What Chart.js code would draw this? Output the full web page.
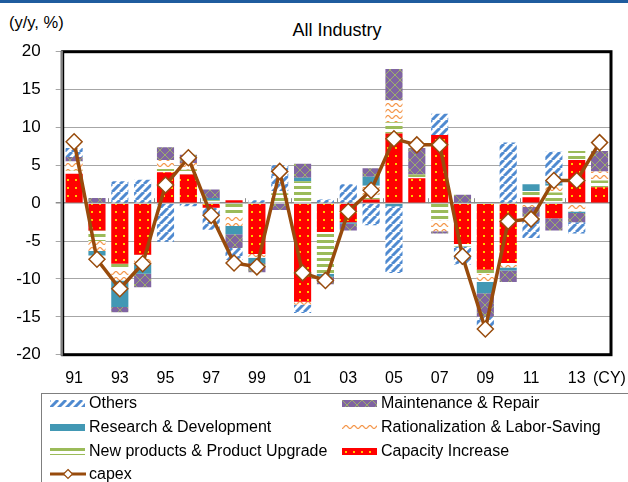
<!DOCTYPE html>
<html>
<head>
<meta charset="utf-8">
<script src="https://cdn.jsdelivr.net/npm/chart.js@4.4.1/dist/chart.umd.min.js"></script>
<style>
  html, body { margin: 0; padding: 0; }
  body { width: 628px; height: 482px; overflow: hidden; position: relative; background: #fff;
         font-family: "Liberation Sans", Arial, sans-serif; color: #000; }
  #topbar { position: absolute; left: 0; top: 0; width: 628px; height: 3px; background: #1f5c9e; }
  #unit { position: absolute; left: 9px; top: 13px; font-size: 16.5px; line-height: 18px; }
  #title { position: absolute; left: 237px; width: 200px; top: 20px; text-align: center; font-size: 18px; line-height: 20px; }
  #cy { position: absolute; left: 593px; top: 369px; font-size: 16px; line-height: 18px; }
  #chart { position: absolute; left: 0; top: 0; }
  #legend { position: absolute; left: 41px; top: 393px; width: 640px; height: 120px; border: 1px solid #7f7f7f; }
  .sw { position: absolute; }
  .lbl { position: absolute; font-size: 16px; line-height: 18px; white-space: nowrap; }
</style>
</head>
<body>
<div id="topbar"></div>
<div id="unit">(y/y, %)</div>
<div id="title">All Industry</div>
<canvas id="chart" width="628" height="482"></canvas>
<div id="cy">(CY)</div>
<div id="legend"></div>
<script>
const years = ['91', '92', '93', '94', '95', '96', '97', '98', '99', '00', '01', '02',
               '03', '04', '05', '06', '07', '08', '09', '10', '11', '12', '13', '14'];

const capacityIncrease = [3.9, -3.6, -8.0, -6.8, 4.1, 3.8, -0.6, 0.4, -6.7, 0, -13.0, -3.8,
                          -2.5, 0.5, 9.2, 3.3, 9.0, -5.4, -8.8, -7.9, 0.8, -2.0, 5.7, 2.1];
const newProducts = [0.4, -1.4, -0.8, -0.4, 0.4, 0.6, 0.4, -1.7, 0, 1.3, 2.9, -5.5,
                     0, 0.6, 1.5, 0.5, -2.3, -0.3, -0.5, 0, 0.8, 1.4, 1.2, 0.9];
const rationalization = [1.2, -1.3, -1.4, -0.9, 1.2, 0.9, 0, -1.3, -0.5, 0.3, -0.4, 0,
                         0, 1.2, 2.9, -0.2, -1.4, 0, -1.1, -0.6, -0.5, 0.9, -1.1, 1.2];
const researchDev = [0, -0.6, -3.5, -1.2, 0, 0, 0.3, -1.1, -0.7, 0, 0.45, -0.4,
                     -0.2, 1.2, -0.4, 0, 0, 0, -1.5, -0.4, 0.9, 0.3, -0.2, 0];
const maintenance = [0.6, 0.7, -0.7, -1.8, 1.7, 1.1, 1.1, -1.8, -1.2, -0.9, 1.85, -1.0,
                     -0.9, 1.1, 4.1, 3.5, -0.3, 1.1, -3.1, -1.5, -1.3, -1.6, -1.2, 2.7];
const others = [1.2, 0, 2.9, 3.1, -5.1, -0.4, -2.9, -1.6, 0.4, 3.4, -1.1, 0.5,
                2.5, -2.9, -8.8, 0, 2.8, -2.4, -1.5, 8.0, -2.8, 4.2, -1.5, 0];
const capex = [8.1, -7.4, -11.3, -8.0, 2.4, 6.0, -1.6, -7.9, -8.4, 4.2, -9.2, -10.2,
               -1.1, 1.7, 8.5, 7.7, 7.7, -7.0, -16.6, -2.4, -2.1, 3.0, 3.0, 8.0];

const FONT = '"Liberation Sans", Arial, sans-serif';
const BROWN = '#984b0c';

// small tiles used as fill patterns
function tile(w, h, draw) {
    const c = document.createElement('canvas');
    c.width = w;
    c.height = h;
    draw(c.getContext('2d'), w, h);
    return c;
}

const tiles = {
    others: tile(8, 8, (g, w, h) => {
        g.fillStyle = '#fff';
        g.fillRect(0, 0, w, h);
        g.strokeStyle = '#4f8ad0';
        g.lineWidth = 3;
        for (const k of [-w, 0, w]) {
            g.beginPath();
            g.moveTo(k, h);
            g.lineTo(k + w, 0);
            g.stroke();
        }
    }),
    maintenance: tile(10, 10, (g, w, h) => {
        g.fillStyle = '#8064a2';
        g.fillRect(0, 0, w, h);
        g.strokeStyle = '#9db06a';
        g.lineWidth = 1;
        g.beginPath();
        g.moveTo(0, 0); g.lineTo(w, h);
        g.moveTo(0, h); g.lineTo(w, 0);
        g.stroke();
    }),
    research: tile(4, 4, (g, w, h) => {
        g.fillStyle = '#4298b4';
        g.fillRect(0, 0, w, h);
    }),
    rational: tile(8, 6, (g, w, h) => {
        g.fillStyle = '#fff';
        g.fillRect(0, 0, w, h);
        g.strokeStyle = '#f4964a';
        g.lineWidth = 1.2;
        g.beginPath();
        for (let x = 0; x <= w; x += 0.5) {
            const y = 3 + 1.5 * Math.cos(2 * Math.PI * x / w);
            if (x === 0) g.moveTo(x, y); else g.lineTo(x, y);
        }
        g.stroke();
    }),
    newProd: tile(4, 6, (g, w, h) => {
        g.fillStyle = '#fff';
        g.fillRect(0, 0, w, h);
        g.fillStyle = '#9bbb59';
        g.fillRect(0, 0, w, 3);
    }),
    capacity: tile(8, 8, (g, w, h) => {
        g.fillStyle = '#ff0000';
        g.fillRect(0, 0, w, h);
        g.fillStyle = '#ffcc00';
        g.fillRect(3, 3, 2, 2);
    })
};

const canvas = document.getElementById('chart');
const ctx = canvas.getContext('2d');
const pat = (t) => ctx.createPattern(t, 'repeat');

// plot frame, zero-axis tick marks
const framePlugin = {
    id: 'frame',
    beforeDatasetsDraw(chart) {
        const { ctx, chartArea: a, scales: { y } } = chart;
        const y0 = y.getPixelForValue(0);
        const step = (a.right - a.left) / years.length;
        ctx.save();
        ctx.strokeStyle = '#8c8c8c';
        ctx.lineWidth = 1;
        for (let i = 2; i < years.length; i += 2) {
            const x = Math.round(a.left + i * step) + 0.5;
            ctx.beginPath();
            ctx.moveTo(x, y0 - 5);
            ctx.lineTo(x, y0);
            ctx.stroke();
        }
        ctx.restore();
    },
    afterDraw(chart) {
        const { ctx, chartArea: a } = chart;
        ctx.save();
        ctx.strokeStyle = '#000';
        ctx.lineWidth = 3;
        ctx.strokeRect(a.left, a.top, a.right - a.left, a.bottom - a.top);
        ctx.strokeStyle = '#808080';
        ctx.lineWidth = 2.5;
        ctx.beginPath();
        ctx.moveTo(a.left - 1, a.top - 1);
        ctx.lineTo(a.left - 1, a.bottom + 1);
        ctx.stroke();
        ctx.restore();
    }
};

const barBase = { stack: 'parts', order: 1, barPercentage: 0.75, categoryPercentage: 1, borderWidth: 0 };

new Chart(ctx, {
    type: 'bar',
    data: {
        labels: years,
        datasets: [
            { ...barBase, label: 'Capacity Increase', data: capacityIncrease, backgroundColor: pat(tiles.capacity) },
            { ...barBase, label: 'New products & Product Upgrade', data: newProducts, backgroundColor: pat(tiles.newProd) },
            { ...barBase, label: 'Rationalization & Labor-Saving', data: rationalization, backgroundColor: pat(tiles.rational) },
            { ...barBase, label: 'Research & Development', data: researchDev, backgroundColor: '#4298b4' },
            { ...barBase, label: 'Maintenance & Repair', data: maintenance, backgroundColor: pat(tiles.maintenance) },
            { ...barBase, label: 'Others', data: others, backgroundColor: pat(tiles.others) },
            {
                type: 'line',
                label: 'capex',
                data: capex,
                stack: 'capex',
                order: 0,
                borderColor: BROWN,
                borderWidth: 3.5,
                tension: 0,
                pointStyle: 'rectRot',
                pointRadius: 8,
                pointBackgroundColor: '#fff',
                pointBorderColor: BROWN,
                pointBorderWidth: 1.5
            }
        ]
    },
    options: {
        responsive: false,
        animation: false,
        devicePixelRatio: 1,
        layout: { padding: { left: 0, top: 51.7, right: 17, bottom: 87.3 } },
        plugins: {
            legend: { display: false },
            tooltip: { enabled: false },
            title: { display: false }
        },
        scales: {
            x: {
                stacked: true,
                grid: { display: false, drawTicks: false },
                border: { display: false },
                ticks: {
                    autoSkip: false,
                    maxRotation: 0,
                    padding: 14,
                    color: '#000',
                    font: { family: FONT, size: 16 },
                    // every other year; last slot is taken by the "(CY)" note
                    callback: (v, i) => (i % 2 === 0 ? years[i] : '')
                },
                afterFit(s) { s.height = 40; }
            },
            y: {
                stacked: true,
                min: -20,
                max: 20,
                grid: {
                    color: (c) => c.tick && c.tick.value === 0 ? '#8c8c8c' : '#a6a6a6',
                    lineWidth: (c) => c.tick && c.tick.value === 0 ? 1.5 : 1,
                    tickLength: 7
                },
                border: { display: false },
                ticks: {
                    stepSize: 5,
                    padding: 15,
                    color: '#000',
                    font: { family: FONT, size: 17 }
                },
                afterFit(s) { s.width = 62.7; }
            }
        }
    },
    plugins: [framePlugin]
});

// legend, two columns like the original
const legendItems = [
    { label: 'Others', tile: tiles.others, x: 50, y: 403 },
    { label: 'Maintenance & Repair', tile: tiles.maintenance, x: 342, y: 403 },
    { label: 'Research & Development', tile: tiles.research, x: 50, y: 427 },
    { label: 'Rationalization & Labor-Saving', tile: tiles.rational, x: 342, y: 427 },
    { label: 'New products & Product Upgrade', tile: tiles.newProd, x: 50, y: 451 },
    { label: 'Capacity Increase', tile: tiles.capacity, x: 342, y: 451 },
    { label: 'capex', tile: null, x: 50, y: 474 }
];

legendItems.forEach(function (item) {
    const sw = document.createElement('canvas');
    sw.className = 'sw';
    if (item.tile) {
        sw.width = 35; sw.height = 7;
        sw.style.left = item.x + 'px';
        sw.style.top = (item.y - 3.5) + 'px';
        const g = sw.getContext('2d');
        g.fillStyle = g.createPattern(item.tile, 'repeat');
        g.fillRect(0, 0, 35, 7);
    } else {
        sw.width = 36; sw.height = 12;
        sw.style.left = item.x + 'px';
        sw.style.top = (item.y - 6) + 'px';
        const g = sw.getContext('2d');
        g.strokeStyle = BROWN;
        g.lineWidth = 3;
        g.beginPath(); g.moveTo(0, 6); g.lineTo(36, 6); g.stroke();
        g.fillStyle = '#fff';
        g.lineWidth = 1.2;
        g.beginPath();
        g.moveTo(18, 1.5); g.lineTo(22.5, 6); g.lineTo(18, 10.5); g.lineTo(13.5, 6); g.closePath();
        g.fill(); g.stroke();
    }
    document.body.appendChild(sw);

    const lbl = document.createElement('div');
    lbl.className = 'lbl';
    lbl.textContent = item.label;
    lbl.style.left = (item.x + 39) + 'px';
    lbl.style.top = (item.y - 9) + 'px';
    document.body.appendChild(lbl);
});
</script>
</body>
</html>
